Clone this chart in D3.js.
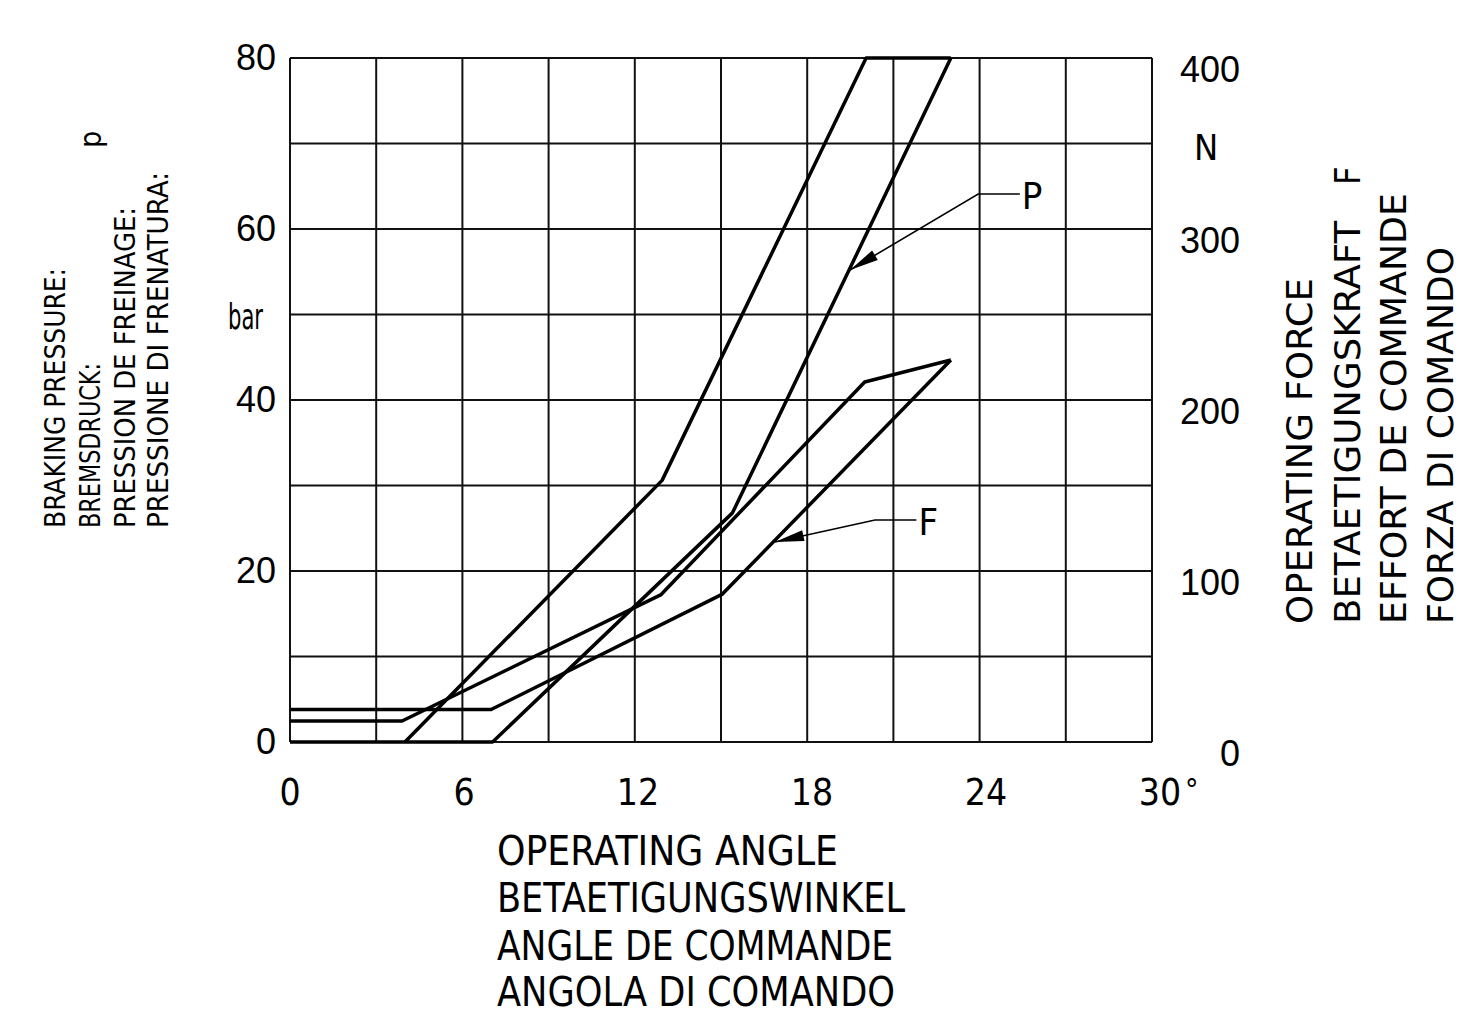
<!DOCTYPE html>
<html>
<head>
<meta charset="utf-8">
<script src="https://cdn.jsdelivr.net/npm/d3@7"></script>
<style>
  html, body { margin: 0; padding: 0; background: #fff; }
  svg text { font-family: 'Liberation Sans Narrow', 'DejaVu Sans Condensed', 'Liberation Sans', sans-serif; fill: #000; }
</style>
</head>
<body>
<svg id="chart" width="1483" height="1019"></svg>
<script>
  'use strict';

  // braking pressure p [angle deg, bar]
  var pressureApply   = [[4, 0], [12.95, 30.6], [20.05, 80], [23, 80]];
  var pressureRelease = [[0, 0], [7.05, 0], [15.4, 26.8], [23, 80]];
  // operating force F [angle deg, N]
  var forceApply   = [[0, 12.3], [3.9, 12.3], [12.9, 86], [20, 210.5], [23, 223.4]];
  var forceRelease = [[0, 19], [7, 19], [15.05, 86.5], [23, 223.4]];

  var angleTicks    = [0, 6, 12, 18, 24, 30];
  var pressureTicks = [0, 20, 40, 60, 80];
  var forceTicks    = [0, 100, 200, 300, 400];

  var leftTitle   = ['BRAKING PRESSURE:', 'BREMSDRUCK:', 'PRESSION DE FREINAGE:', 'PRESSIONE DI FRENATURA:'];
  var rightTitle  = ['OPERATING FORCE', 'BETAETIGUNGSKRAFT', 'EFFORT DE COMMANDE', 'FORZA DI COMANDO'];
  var bottomTitle = ['OPERATING ANGLE', 'BETAETIGUNGSWINKEL', 'ANGLE DE COMMANDE', 'ANGOLA DI COMANDO'];

  var svg = d3.select('#chart');

  var x  = d3.scaleLinear().domain([0, 30]).range([290, 1152]);
  var yP = d3.scaleLinear().domain([0, 80]).range([742, 58]);
  var yF = d3.scaleLinear().domain([0, 400]).range([742, 58]);

  // grid
  var grid = svg.append('g').attr('stroke', '#111').attr('stroke-width', 2);
  grid.selectAll('.vx').data(d3.range(0, 31, 3)).enter().append('line')
      .attr('x1', x).attr('x2', x)
      .attr('y1', yP(0)).attr('y2', yP(80));
  grid.selectAll('.hy').data(d3.range(0, 81, 10)).enter().append('line')
      .attr('x1', x(0)).attr('x2', x(30))
      .attr('y1', yP).attr('y2', yP);

  // curves
  var lineP = d3.line().x(function(d){ return x(d[0]); }).y(function(d){ return yP(d[1]); });
  var lineF = d3.line().x(function(d){ return x(d[0]); }).y(function(d){ return yF(d[1]); });

  [pressureApply, pressureRelease].forEach(function(s){
    svg.append('path').attr('d', lineP(s))
        .attr('fill', 'none').attr('stroke', '#000')
        .attr('stroke-width', 3.5).attr('stroke-linejoin', 'round');
  });
  [forceApply, forceRelease].forEach(function(s){
    svg.append('path').attr('d', lineF(s))
        .attr('fill', 'none').attr('stroke', '#000')
        .attr('stroke-width', 3.5).attr('stroke-linejoin', 'round');
  });

  // leader with arrow head, points in chart units
  function leader(tip, elbow, end, yScale, label){
    var p0 = [x(tip[0]), yScale(tip[1])], p1 = [x(elbow[0]), yScale(elbow[1])], p2 = [x(end), p1[1]];
    svg.append('polyline')
        .attr('points', [p0, p1, p2].map(function(p){ return p.join(','); }).join(' '))
        .attr('fill', 'none').attr('stroke', '#000').attr('stroke-width', 1.6);
    var dx = p1[0]-p0[0], dy = p1[1]-p0[1], len = Math.sqrt(dx*dx+dy*dy);
    var ux = dx/len, uy = dy/len, L = 29, W = 5.5;
    var bx = p0[0]+ux*L, by = p0[1]+uy*L;
    svg.append('polygon')
        .attr('points', [[p0[0], p0[1]], [bx-uy*W, by+ux*W], [bx+uy*W, by-ux*W]].map(function(p){ return p.join(','); }).join(' '))
        .attr('fill', '#000');
    svg.append('text')
        .attr('x', p2[0]+2).attr('y', p2[1]+15)
        .style('font-size', '38px')
        .text(label);
  }
  leader([19.49, 55.2], [23.95, 64.1], 25.4, yP, 'P');
  leader([16.88, 117], [20.36, 129.8], 21.8, yF, 'F');

  // tick labels
  svg.selectAll('.tp').data(pressureTicks).enter().append('text')
      .attr('x', 276).attr('y', function(d){ return yP(d)+12; })
      .style('font-family', 'Liberation Sans, sans-serif')
      .style('font-size', '36px').style('text-anchor', 'end')
      .text(function(d){ return d; });
  svg.selectAll('.tf').data(forceTicks).enter().append('text')
      .attr('x', 1240).attr('y', function(d){ return yF(d)+24; })
      .style('font-family', 'Liberation Sans, sans-serif')
      .style('font-size', '36px').style('text-anchor', 'end')
      .text(function(d){ return d; });
  svg.selectAll('.ta').data(angleTicks).enter().append('text')
      .attr('x', function(d){ return x(d)+(d/30)*8; }).attr('y', 805)
      .style('font-size', '37px').style('text-anchor', 'middle')
      .text(function(d){ return d; });
  svg.append('text').attr('x', x(30)+33).attr('y', 800)
      .style('font-size', '30px').text('°');

  // units
  svg.append('text').attr('x', 228).attr('y', 329)
      .attr('textLength', 35).attr('lengthAdjust', 'spacingAndGlyphs')
      .style('font-size', '36px').text('bar');
  svg.append('text').attr('x', 1206).attr('y', 160)
      .style('font-size', '36px').style('text-anchor', 'middle').text('N');

  // left title, rotated
  var leftBase = [65, 100, 135, 168], leftLen = [260, 165, 321, 356];
  leftTitle.forEach(function(t, i){
    svg.append('text')
        .attr('transform', 'translate(' + leftBase[i] + ',528) rotate(-90)')
        .attr('textLength', leftLen[i]).attr('lengthAdjust', 'spacingAndGlyphs')
        .style('font-size', '28px').text(t);
  });
  svg.append('text')
      .attr('transform', 'translate(101,148) rotate(-90)')
      .style('font-size', '30px').text('p');

  // right title, rotated
  var rightBase = [1312, 1360, 1406, 1453], rightLen = [346, 403, 431, 377];
  rightTitle.forEach(function(t, i){
    svg.append('text')
        .attr('transform', 'translate(' + rightBase[i] + ',624) rotate(-90)')
        .attr('textLength', rightLen[i]).attr('lengthAdjust', 'spacingAndGlyphs')
        .style('font-size', '36px').text(t);
  });
  svg.append('text')
      .attr('transform', 'translate(1360,185) rotate(-90)')
      .style('font-size', '36px').text('F');

  // bottom title
  var bottomBase = [865, 912, 960, 1006], bottomLen = [341, 408, 396, 398];
  bottomTitle.forEach(function(t, i){
    svg.append('text')
        .attr('x', 497).attr('y', bottomBase[i])
        .attr('textLength', bottomLen[i]).attr('lengthAdjust', 'spacingAndGlyphs')
        .style('font-size', '40px').text(t);
  });
</script>
</body>
</html>
